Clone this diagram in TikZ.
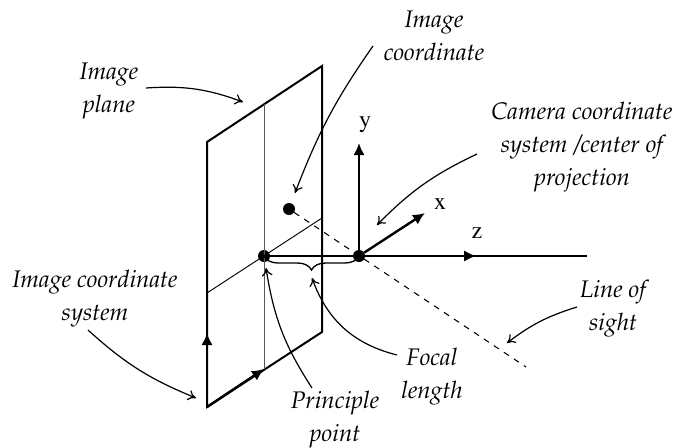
\documentclass[tikz,border=0pt]{standalone}
\usepackage[T1]{fontenc}
\usepackage{mathpazo}
\usetikzlibrary{arrows.meta,decorations.pathreplacing,decorations.markings}
\tikzset{
  edge/.style={line width=1.5pt, line cap=round, line join=miter},
  thinln/.style={line width=0.7pt},
  axisln/.style={line width=1.8pt, -{Latex[length=9pt,width=8.5pt]}},
  midax/.style={line width=1.8pt, postaction={decorate, decoration={markings,
      mark=at position #1 with {\arrow{Latex[length=9pt,width=8.5pt]}}}}},
  leader/.style={line width=0.9pt, -{Computer Modern Rightarrow[length=6pt,width=8pt]}},
  sight/.style={line width=0.8pt, dash pattern=on 4.5pt off 4.5pt},
  gnode/.style={circle, fill=black, inner sep=0pt, minimum size=9pt},
  lbl/.style={font=\fontsize{18}{24.75}\selectfont\itshape, align=center, inner sep=0pt},
  axlbl/.style={font=\fontfamily{ptm}\fontsize{18}{18}\selectfont, inner sep=0pt},
}
\begin{document}
\begin{tikzpicture}[x=0.75pt, y=-0.75pt]
    \useasboundingbox (0,0) rectangle (673,447);
    % plane corners
    \coordinate (pbl) at (207,407);
    \coordinate (pbr) at (322,332);
    \coordinate (ptr) at (322,66);
    \coordinate (ptl) at (207,142);
    \coordinate (mtop) at (264,104);
    \coordinate (mbot) at (264,369);
    \coordinate (hleft) at (207,293);
    \coordinate (hright) at (322,218);
    % points
    \node[gnode] (princ) at (264,256) {};
    \node[gnode] (cam) at (359,256) {};
    \node[gnode] (imgpt) at (289,209) {};
    % axis ends
    \coordinate (yend) at (359,143);
    \coordinate (xend) at (425,213);
    \coordinate (zend) at (587,256);
    \coordinate (sightend) at (526,367);
    \coordinate (upend) at (207,333);
    % plane
    \draw[edge] (pbl) -- (pbr) -- (ptr) -- (ptl) -- cycle;
    \draw[thinln, black!65] (mtop) -- (mbot);
    \draw[thinln] (hleft) -- (hright);
    \draw[sight] (imgpt) -- (sightend);
    % axes
    \draw[axisln] (cam) -- (yend);
    \draw[axisln] (cam) -- (xend);
    \draw[midax=0.65] (princ) -- (zend);
    \draw[axisln] (pbl) -- (upend);
    \draw[axisln] (pbl) -- (mbot);
    \draw[line width=1pt, decorate, decoration={brace, mirror, amplitude=10.5pt}] (princ.center) -- (cam.center);
    % labels
    \node[axlbl] (ylab) at (365,125) {y};
    \node[axlbl] (xlab) at (440,204) {x};
    \node[axlbl] (zlab) at (477,233) {z};
    \node[lbl] (lplane) at (109,91) {Image\\plane};
    \node[lbl] (lcoord) at (434,36) {Image\\coordinate};
    \node[lbl] (lcam) at (582,147) {Camera coordinate\\system /center of\\projection};
    \node[lbl] (lsys) at (95,299) {Image coordinate\\system};
    \node[lbl] (lsight) at (613,309) {Line of\\sight};
    \node[lbl] (lfocal) at (432,377) {Focal\\length};
    \node[lbl] (lprinc) at (335,420) {Principle\\point};
    % leaders
    \coordinate (a1) at (146,88);  \coordinate (b1) at (243,102);
    \coordinate (a2) at (373,46);  \coordinate (b2) at (295,193);
    \coordinate (a3) at (477,154); \coordinate (b3) at (377,225);
    \coordinate (a4) at (88,330);  \coordinate (b4) at (196,398);
    \coordinate (a5) at (577,307); \coordinate (b5) at (507,343);
    \coordinate (a6) at (397,355); \coordinate (b6) at (312,278);
    \coordinate (a7) at (312,388); \coordinate (b7) at (266,268);
    \draw[leader] (a1) to[bend left=12] (b1);
    \draw[leader] (a2) to[bend right=7] (b2);
    \draw[leader] (a3) to[bend right=10] (b3);
    \draw[leader] (a4) to[bend right=10] (b4);
    \draw[leader] (a5) to[bend right=10] (b5);
    \draw[leader] (a6) to[bend left=28] (b6);
    \draw[leader] (a7) to[bend left=12] (b7);
\end{tikzpicture}
\end{document}
